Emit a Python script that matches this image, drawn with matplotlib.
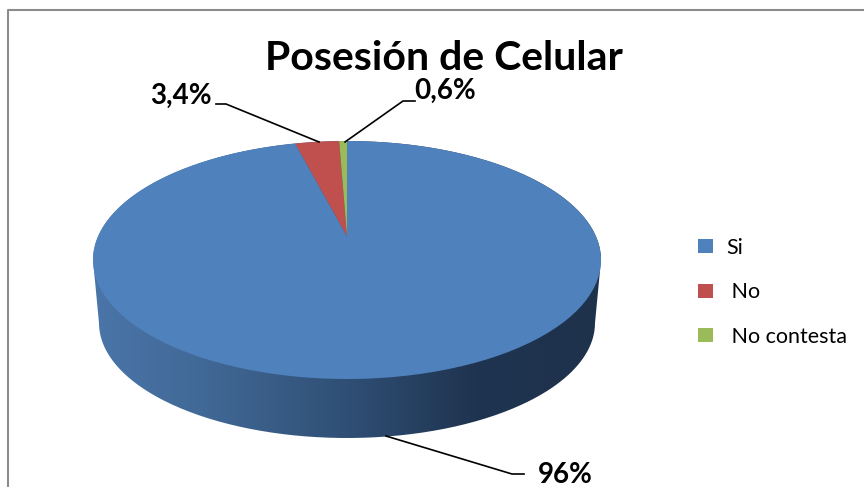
import numpy as np
import matplotlib
matplotlib.use("Agg")
import matplotlib.pyplot as plt
from matplotlib.colors import LinearSegmentedColormap
from matplotlib.patches import PathPatch, Rectangle
from matplotlib.path import Path
from matplotlib.transforms import Affine2D

# Data
categories = ["Si", " No", " No contesta"]
values = [96, 3.4, 0.6]
value_labels = ["96%", "3,4%", "0,6%"]
colors = ["#4f81bd", "#c0504d", "#9bbb59"]

W, H = 864, 487
plt.rcParams["font.family"] = ["Lato", "DejaVu Sans"]

fig = plt.figure(figsize=(W / 100, H / 100), dpi=100)

# Pixel overlay for frame, side of the pie and leader lines
bg = fig.add_axes([0, 0, 1, 1])
bg.set_xlim(0, W)
bg.set_ylim(H, 0)
bg.axis("off")

# Chart frame (only left and top are visible in the crop)
bg.plot([8, 8, W + 2], [H + 2, 10, 10], color="#8c8c8c", lw=1.5)

# Side of the pie: hull of top and bottom ellipse, filled with a gradient
cx, top_cy, top_rx, top_ry = 347, 260, 254, 119
low_cy, low_rx, low_ry = 323, 248, 115
t = np.linspace(0, np.pi, 200)
hull_x = np.r_[cx + low_rx * np.cos(t), cx + top_rx * np.cos(t)[::-1]]
hull_y = np.r_[low_cy + low_ry * np.sin(t), top_cy - top_ry * np.sin(t)[::-1]]
side_cmap = LinearSegmentedColormap.from_list(
    "side", [(0, "#4a75a8"), (0.2, "#426a98"), (0.5, "#2f4f75"), (0.75, "#1f3450"), (1, "#1e324c")]
)
grad = bg.imshow(
    np.linspace(0, 1, 256).reshape(1, -1), cmap=side_cmap, aspect="auto",
    extent=(93, 601, 445, 140), zorder=1,
)
bg.set_xlim(0, W)
bg.set_ylim(H, 0)
side_patch = PathPatch(Path(np.c_[hull_x, hull_y]), transform=bg.transData, fc="none", ec="none")
bg.add_patch(side_patch)
grad.set_clip_path(side_patch)

# Pie top, squashed to an ellipse
ax = fig.add_axes([
    (cx - top_rx) / W, 1 - (top_cy + top_ry) / H,
    2 * top_rx / W, 2 * top_ry / H,
])
wedges, _ = ax.pie(values, colors=colors, startangle=90, counterclock=False)
ax.set_aspect("auto")
ax.set_xlim(-1, 1)
ax.set_ylim(-1, 1)
ax.patch.set_alpha(0)

# Perspective: keeps the unit circle but moves the apex up
c = 0.2
handles = []
for w in wedges:
    poly = w.get_path().transformed(Affine2D().scale(600)).to_polygons()[0] / 600
    d = 1 + c * poly[:, 1]
    xy = np.c_[poly[:, 0] * np.sqrt(1 - c**2) / d, (poly[:, 1] + c) / d]
    p = PathPatch(Path(xy), fc=w.get_facecolor(), ec="none")
    ax.add_patch(p)
    w.set_visible(False)
    handles.append(Rectangle((0, 0), 1, 1, fc=w.get_facecolor(), ec="none"))

# Overlay for text and leaders
fg = fig.add_axes([0, 0, 1, 1])
fg.set_xlim(0, W)
fg.set_ylim(H, 0)
fg.axis("off")
fg.patch.set_alpha(0)

fg.text(444, 58, "Posesión de Celular", ha="center", va="center", fontsize=29.5, fontweight="bold", color="black")

fg.plot([216, 226, 319], [104, 104, 142], color="black", lw=1.2)
fg.plot([415, 403, 345], [101, 101, 142], color="black", lw=1.2)
fg.plot([386, 512, 524], [436, 474, 474], color="black", lw=1.2)

fg.text(181, 96, value_labels[1], ha="center", va="center", fontsize=20, fontweight="bold")
fg.text(445, 91, value_labels[2], ha="center", va="center", fontsize=20, fontweight="bold")
fg.text(565, 475, value_labels[0], ha="center", va="center", fontsize=20, fontweight="bold")

fg.legend(
    handles, categories, loc="upper left", bbox_to_anchor=(698 / W, 1 - 238 / H),
    bbox_transform=fig.transFigure, frameon=False, fontsize=15.5, borderpad=0, borderaxespad=0,
    handlelength=0.7, handleheight=0.62, handletextpad=0.62, labelspacing=1.13,
)

fig.savefig("out.png", dpi=100, facecolor="white")
